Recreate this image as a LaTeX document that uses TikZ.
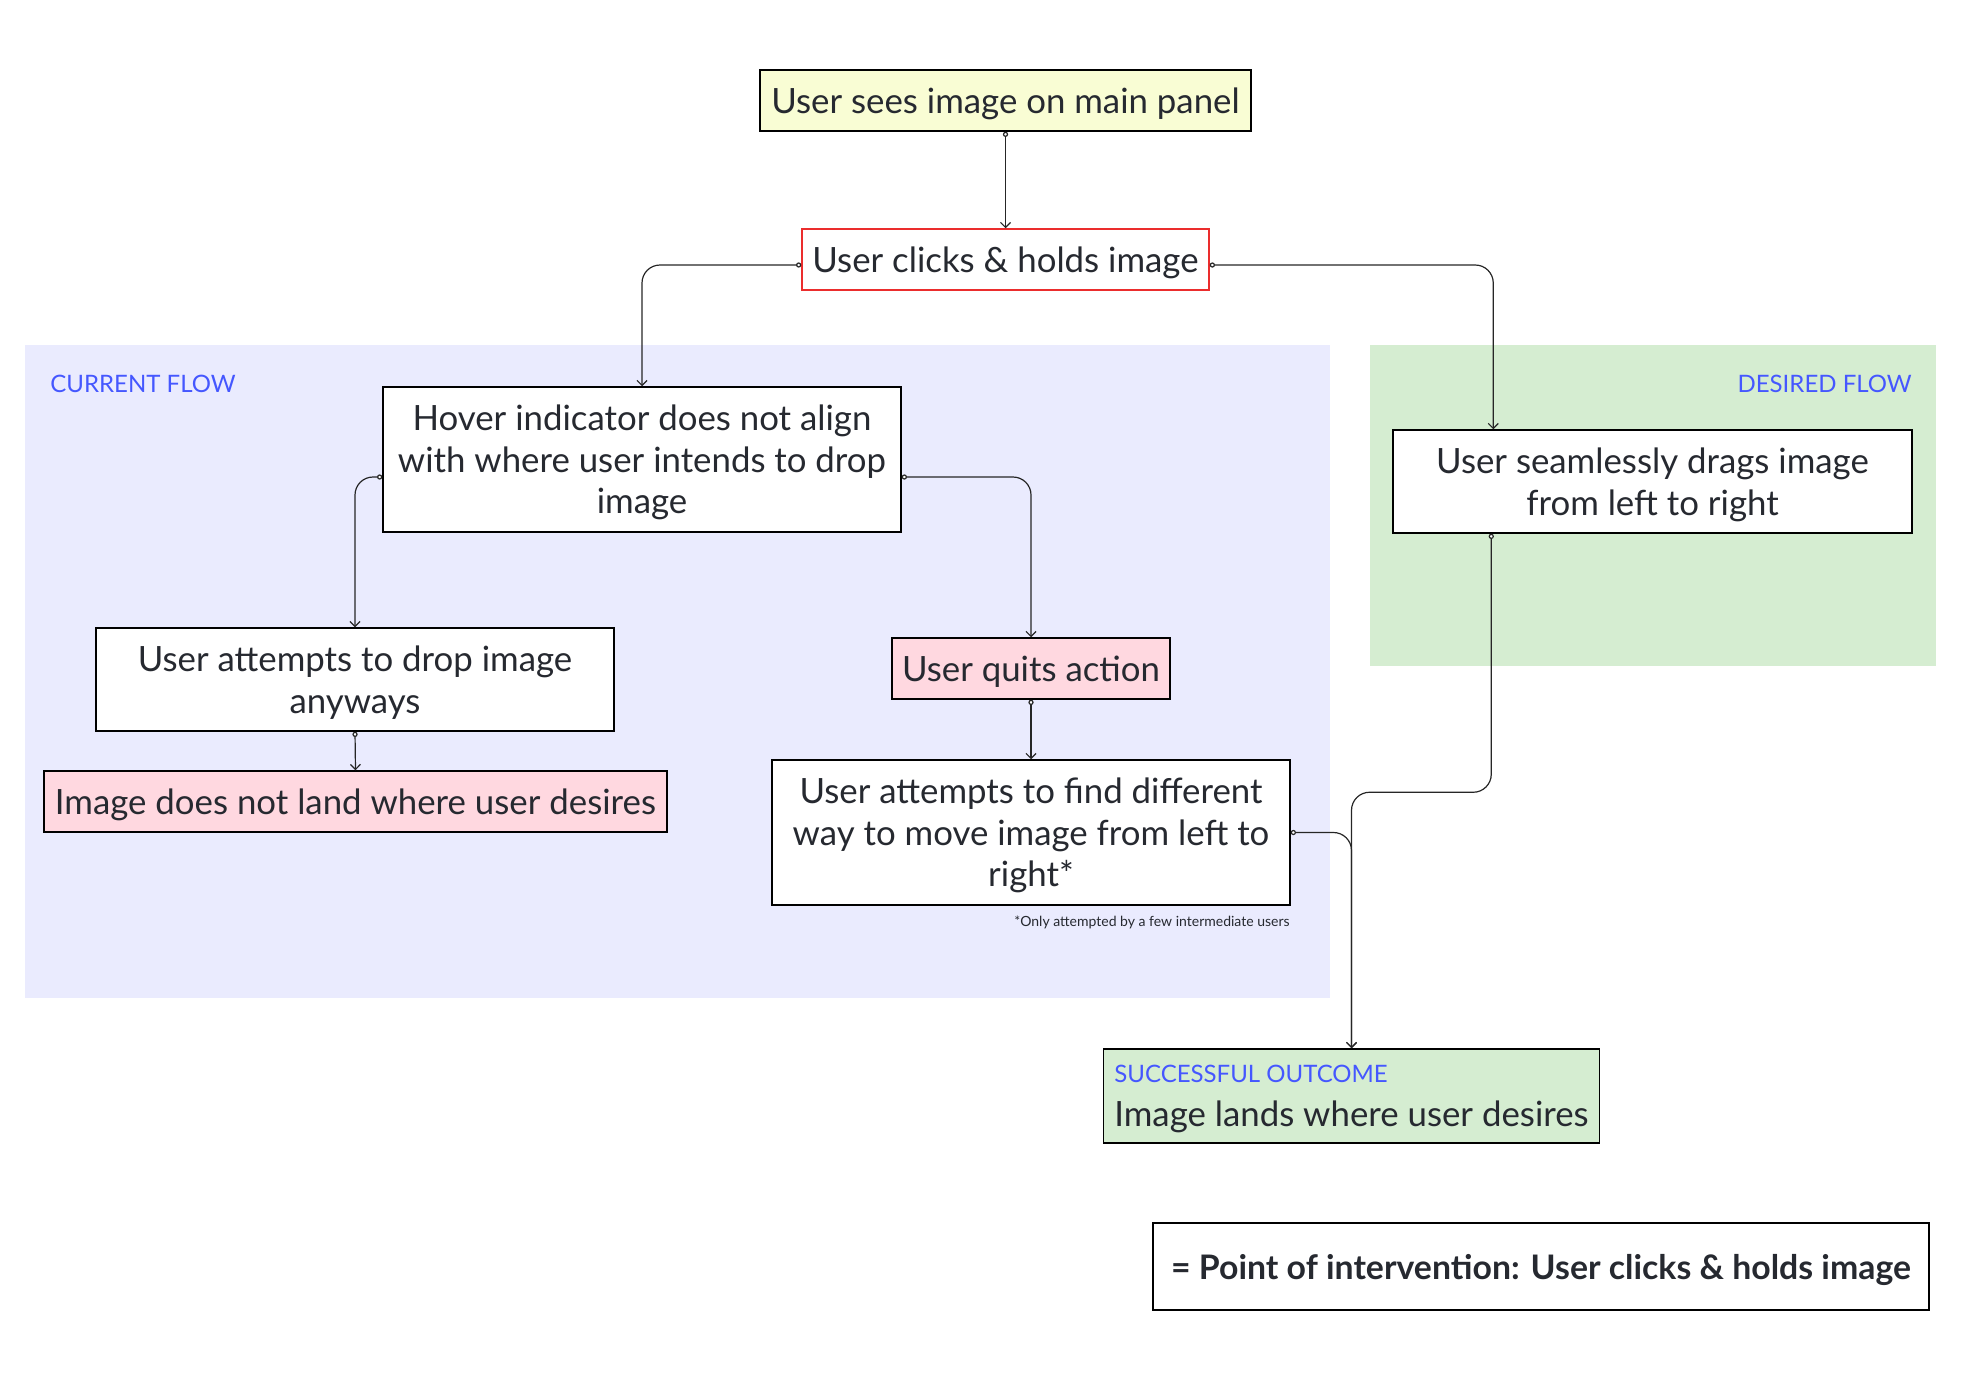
\documentclass[tikz,border=0pt]{standalone}
\usepackage{fontspec}
\setmainfont{Lato}
\usetikzlibrary{positioning,arrows.meta}
\definecolor{panelYellow}{RGB}{249,253,212}
\definecolor{quitPink}{RGB}{255,216,224}
\definecolor{flowLavender}{RGB}{234,235,254}
\definecolor{flowGreen}{RGB}{213,237,209}
\definecolor{labelBlue}{RGB}{69,87,255}
\definecolor{holdRed}{RGB}{235,45,45}
\definecolor{inkDark}{RGB}{38,41,48}
\newcommand{\bodysize}{\fontsize{17.4}{20.8}\selectfont}
\newcommand{\tagsize}{\fontsize{12}{14}\selectfont}

\begin{document}
\begin{tikzpicture}[x=0.5pt,y=-0.5pt,
                  s/.style={draw,line width=0.75pt,inner sep=0pt,align=center,text=inkDark,font=\bodysize,text depth=-3.3pt,minimum height=30.5pt},
                  tag/.style={text=labelBlue,font=\tagsize,inner sep=0pt},
                  arr/.style={{Circle[length=2.6pt,fill=white]}-{Straight Barb[length=2.5pt,width=5pt]},line width=0.6pt,draw=black!85,rounded corners=9pt}
                ]
                \useasboundingbox (0,0) rectangle (1963,1382);
                \fill[flowLavender] (25,345) rectangle (1330,998);
                \fill[flowGreen] (1370,345) rectangle (1936,666);
                \node[tag,anchor=base west] (curlabel) at (50,392) {CURRENT FLOW};
                \node[tag,anchor=base east] (deslabel) at (1912,392) {DESIRED FLOW};

                \node[s,fill=panelYellow,minimum width=245.5pt] (sees) at (1005.5,100.5) {User sees image on main panel};
                \node[s,draw=holdRed,fill=white,minimum width=203.5pt] (clicks) at (1005.5,259.5) {User clicks \& holds image};
                \node[s,fill=white,minimum width=259pt,minimum height=72.5pt] (hover) at (642,459.5) {Hover indicator does not align\\with where user intends to drop\\image};
                \node[s,fill=white,minimum width=259pt,minimum height=51.5pt] (attempt) at (355,679.5) {User attempts to drop image\\anyways};
                \node[s,fill=quitPink,minimum width=311.5pt] (notland) at (355.5,801.5) {Image does not land where user desires};
                \node[s,fill=quitPink,minimum width=139pt] (quits) at (1031,668.5) {User quits action};
                \node[s,fill=white,minimum width=259pt,minimum height=72.5pt] (find) at (1031,832.5) {User attempts to find different\\way to move image from left to\\right*};
                \node[text=inkDark,font=\fontsize{7}{8}\selectfont,anchor=base east,inner sep=0pt] (footnote) at (1290,926) {*Only attempted by a few intermediate users};
                \node[s,fill=white,minimum width=259.5pt,minimum height=51.5pt] (seamless) at (1652.5,481.5) {User seamlessly drags image\\from left to right};
                \node[s,fill=flowGreen,align=left,inner xsep=5.5pt,minimum width=247.5pt,minimum height=47pt,text depth=-1.5pt] (success) at (1351.5,1096) {{\tagsize\color{labelBlue}SUCCESSFUL OUTCOME}\\[1pt]Image lands where user desires};
                \node[s,font=\fontsize{16.9}{20}\selectfont\bfseries,minimum width=388pt,minimum height=43.5pt,text depth=-1.5pt] (legend) at (1541,1266.5) {= Point of intervention: User clicks \& holds image};

                \draw[arr] (sees.south) -- (clicks.north);
                \draw[arr] ([yshift=-2.75pt]clicks.west) -| (hover.north);
                \draw[arr] ([yshift=-2.75pt]clicks.east) -| ([xshift=50.5pt]seamless.north west);
                \draw[arr] ([yshift=-8.75pt]hover.west) -| (attempt.north);
                \draw[arr] ([yshift=-8.75pt]hover.east) -| (quits.north);
                \draw[arr] (attempt.south) -- (notland.north);
                \draw[arr] (quits.south) -- (find.north);
                \draw[arr] (find.east) -| (success.north);
                \draw[arr] ([xshift=49.5pt]seamless.south west) |- ([yshift=128pt]success.north) -- (success.north);
\end{tikzpicture}
\end{document}
